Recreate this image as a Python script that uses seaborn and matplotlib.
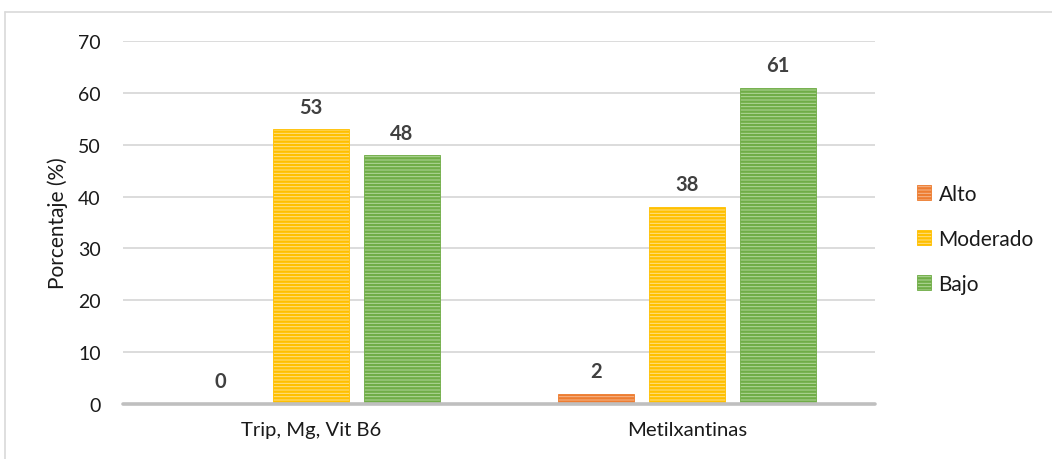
import matplotlib
matplotlib.use("Agg")
import matplotlib.pyplot as plt
from matplotlib.lines import Line2D
import seaborn as sns
import pandas as pd

# Data
categories = ["Trip, Mg, Vit B6", "Metilxantinas"]
niveles = ["Alto", "Moderado", "Bajo"]
alto = [0, 2]
moderado = [53, 38]
bajo = [48, 61]

df = pd.DataFrame({
    "Categoria": categories * 3,
    "Nivel": ["Alto"] * 2 + ["Moderado"] * 2 + ["Bajo"] * 2,
    "Valor": alto + moderado + bajo,
})

base_colors = {"Alto": "#ED7D31", "Moderado": "#FFC000", "Bajo": "#70AD47"}
light_colors = {"Alto": "#F6B88E", "Moderado": "#FFE08A", "Bajo": "#B4D89C"}

sns.set_style("white")
plt.rcParams["font.family"] = ["Lato", "DejaVu Sans"]
plt.rcParams["hatch.linewidth"] = 1.7

fig = plt.figure(figsize=(10.52, 4.6), dpi=100)
ax = fig.add_axes([123 / 1052, 1 - 405 / 460, 752 / 1052, 363 / 460])

sns.barplot(data=df, x="Categoria", y="Valor", hue="Nivel", hue_order=niveles,
            order=categories, palette=base_colors, width=0.726, gap=0.174,
            ax=ax, legend=False, errorbar=None)

# Striped fill: light tint with horizontal lines in the series colour
for container, nivel in zip(ax.containers, niveles):
    for bar in container:
        bar.set_facecolor(light_colors[nivel])
        bar.set_edgecolor(base_colors[nivel])
        bar.set_linewidth(0.6)
        bar.set_hatch("-----")
    ax.bar_label(container, labels=[f"{v:.0f}" for v in container.datavalues],
                 padding=9, fontsize=14.5, fontweight="bold", color="#404040")

ax.set_xlim(-0.5, 1.5)
ax.set_ylim(0, 70)
ax.set_yticks(range(0, 80, 10))
ax.set_yticklabels([str(v) for v in range(0, 80, 10)])
ax.yaxis.grid(True, color="#D9D9D9", linewidth=1.3)
ax.set_axisbelow(True)
for s in ax.spines.values():
    s.set_visible(False)
ax.axhline(0, color="#BFBFBF", linewidth=2.6, zorder=5, clip_on=False)
ax.tick_params(axis="both", length=0, labelcolor="#1A1A1A")
ax.tick_params(axis="y", pad=16, labelsize=14)
ax.tick_params(axis="x", pad=12, labelsize=14.6)
ax.set_xlabel("")
ax.set_ylabel("Porcentaje (%)", fontsize=15, color="#1A1A1A", labelpad=7)

handles = [plt.Rectangle((0, 0), 1, 1, facecolor=light_colors[n], edgecolor=base_colors[n],
                         hatch="-----", linewidth=0.6) for n in niveles]
fig.legend(handles, niveles, loc="center left", bbox_to_anchor=(898 / 1052, 1 - 240 / 460),
           frameon=False, fontsize=15, labelspacing=1.2, handlelength=0.7,
           handleheight=0.7, handletextpad=0.35, labelcolor="#1A1A1A")

# Chart-area frame
fig.add_artist(Line2D([5 / 1052, 5 / 1052], [0, 1 - 13 / 460], color="#D9D9D9", linewidth=1.2))
fig.add_artist(Line2D([5 / 1052, 1], [1 - 13 / 460, 1 - 13 / 460], color="#D9D9D9", linewidth=1.2))

fig.savefig("out.png", dpi=100, facecolor="white")
